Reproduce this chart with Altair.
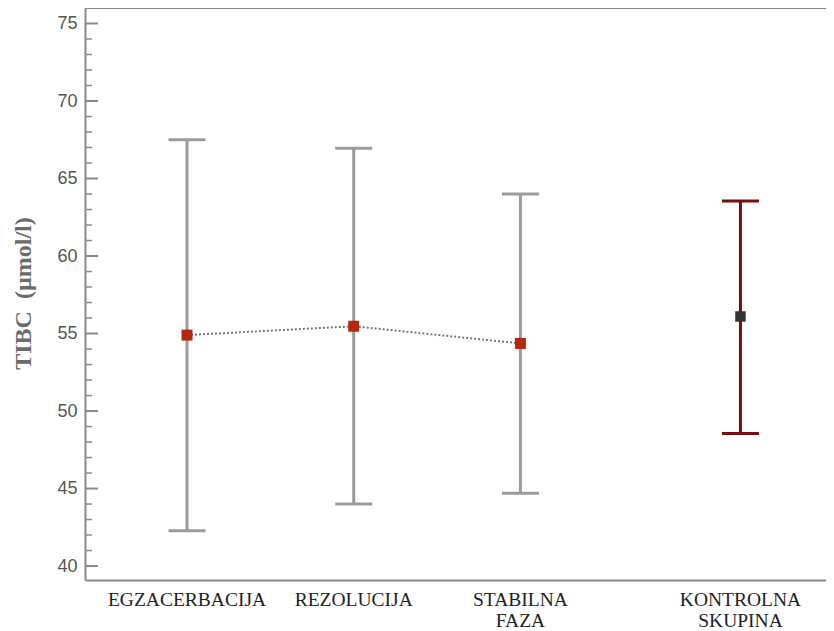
import altair as alt
import pandas as pd

categories = ["EGZACERBACIJA", "REZOLUCIJA", "STABILNA\nFAZA", "KONTROLNA\nSKUPINA"]
group_pos = [1.0, 2.0, 3.0, 4.32]
means = [54.9, 55.47, 54.36, 56.1]
upper = [67.5, 66.95, 64.0, 63.55]
lower = [42.27, 44.0, 44.7, 48.55]
groups = ["patient", "patient", "patient", "control"]

major_ticks = [40, 45, 50, 55, 60, 65, 70, 75]
minor_ticks = [v for v in range(40, 76) if v % 5 != 0]

W, H = 741, 572

df = pd.DataFrame({
    "cat": categories, "pos": group_pos, "mean": means,
    "hi": upper, "lo": lower, "grp": groups,
})
pat = df[df.grp == "patient"]
ctl = df[df.grp == "control"]

xs = alt.Scale(domain=[0.388, 0.388 + W / 166.7], nice=False, zero=False)
ys = alt.Scale(domain=[39.1, 76.0], nice=False, zero=False)

X = alt.X("pos:Q", scale=xs, axis=alt.Axis(domain=True, domainColor="#8a8a8a", domainWidth=2,
                                            ticks=False, labels=False, grid=False, title=None))
Y = alt.Y("mean:Q", scale=ys,
          axis=alt.Axis(values=major_ticks, ticks=False, grid=False, domainColor="#8a8a8a",
                        domainWidth=2, labelFont="Liberation Sans", labelFontSize=18,
                        labelColor="#555555", labelPadding=8,
                        title="TIBC\u00a0 (µmol/l)", titleFont="Liberation Serif",
                        titleFontSize=24, titleFontWeight="bold", titleColor="#6b6b6b",
                        titleX=-50, titleY=285))

base = alt.Chart(df)

top_line = alt.Chart(pd.DataFrame({"a": [0]})).mark_rule(color="#8a8a8a", strokeWidth=2).encode(
    y=alt.value(0), x=alt.value(0), x2=alt.value(W + 10))

maj = alt.Chart(pd.DataFrame({"v": major_ticks})).mark_rule(color="#8a8a8a", strokeWidth=2).encode(
    y=alt.Y("v:Q", scale=ys), x=alt.value(0), x2=alt.value(13))
mino = alt.Chart(pd.DataFrame({"v": minor_ticks})).mark_rule(color="#8a8a8a", strokeWidth=1.5).encode(
    y=alt.Y("v:Q", scale=ys), x=alt.value(0), x2=alt.value(7))

def bars(d, color):
    c = alt.Chart(d)
    r = c.mark_rule(color=color, strokeWidth=3).encode(
        x=alt.X("pos:Q", scale=xs), y=alt.Y("lo:Q", scale=ys), y2="hi:Q")
    t1 = c.mark_tick(orient="horizontal", size=37, thickness=3, color=color, opacity=1).encode(
        x=alt.X("pos:Q", scale=xs), y=alt.Y("hi:Q", scale=ys))
    t2 = c.mark_tick(orient="horizontal", size=37, thickness=3, color=color, opacity=1).encode(
        x=alt.X("pos:Q", scale=xs), y=alt.Y("lo:Q", scale=ys))
    return r + t1 + t2

line = alt.Chart(pat).mark_line(color="#777777", strokeWidth=2, strokeDash=[2, 2]).encode(x=X, y=Y)
pts_p = alt.Chart(pat).mark_square(size=121, color="#b5260f", opacity=1).encode(
    x=alt.X("pos:Q", scale=xs), y=alt.Y("mean:Q", scale=ys))
pts_c = alt.Chart(ctl).mark_square(size=110, color="#333333", opacity=1).encode(
    x=alt.X("pos:Q", scale=xs), y=alt.Y("mean:Q", scale=ys))

labels = base.mark_text(font="Liberation Serif", fontSize=19.5, color="#222222",
                        baseline="top", align="center", lineBreak="\n", lineHeight=21).encode(
    x=alt.X("pos:Q", scale=xs), y=alt.value(H + 11), text="cat:N")

chart = alt.layer(
    line, top_line, maj, mino,
    bars(pat, "#9b9b9b"), bars(ctl, "#7a0c0c"),
    pts_p, pts_c, labels,
).properties(
    width=W, height=H,
    autosize=alt.AutoSizeParams(type="none"),
    padding={"left": 77, "top": 0, "right": 0, "bottom": 50},
).configure_view(stroke=None)

chart.save("out.html", embed_options={"renderer": "svg", "actions": False})
